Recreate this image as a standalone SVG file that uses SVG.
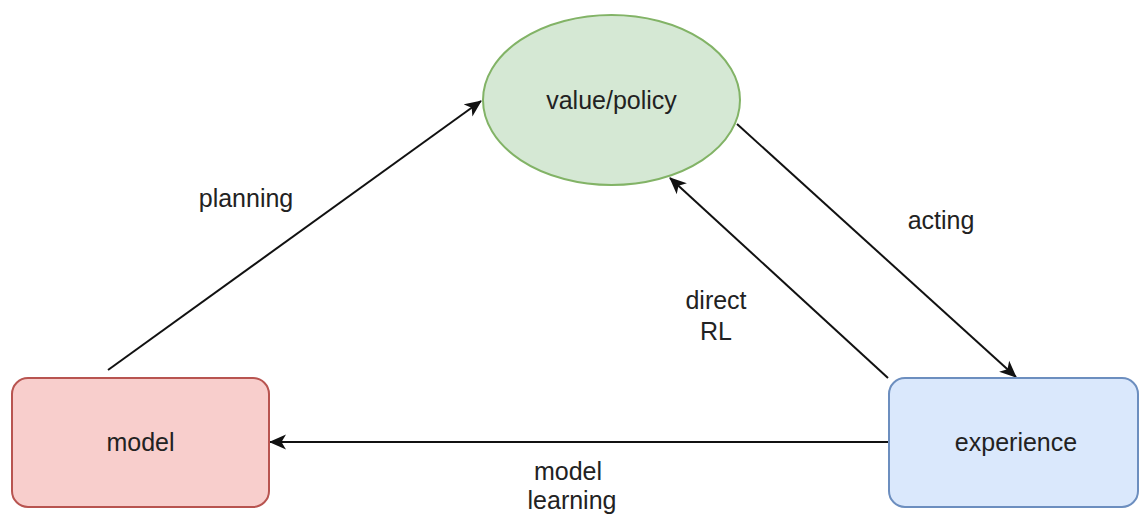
<svg xmlns="http://www.w3.org/2000/svg" width="1140" height="516" viewBox="0 0 1140 516">
<style>
text{font-family:"Liberation Sans",Arial,sans-serif;font-size:25px;fill:#222;text-anchor:middle}
.edge{stroke:#111;stroke-width:2;fill:none;marker-end:url(#arr)}
</style>
<defs>
<marker id="arr" markerUnits="userSpaceOnUse" markerWidth="19" markerHeight="16" refX="16" refY="8" orient="auto" viewBox="0 0 19 16">
<path d="M0,0.5 L17,8 L0,15.5 L4.5,8 Z" fill="#111"/>
</marker>
</defs>
<rect width="1140" height="516" fill="#fff"/>
<g id="connectors">
<path class="edge" d="M108,370 L481,101"/>
<path class="edge" d="M737,124 L1016,377"/>
<path class="edge" d="M888,378 L670,178"/>
<path class="edge" d="M889,442 L270,442"/>
<text x="246" y="207">planning</text>
<text x="941" y="229">acting</text>
<text x="716" y="309">direct</text>
<text x="716" y="340">RL</text>
<text x="568" y="480">model</text>
<text x="572" y="509">learning</text>
</g>
<g id="value-policy">
<ellipse cx="611.5" cy="100" rx="128.5" ry="85" fill="#d5e8d4" stroke="#82b366" stroke-width="2"/>
<text x="611.5" y="109">value/policy</text>
</g>
<g id="model">
<rect x="12" y="378" width="257" height="129" rx="16" fill="#f8cecc" stroke="#b85450" stroke-width="2"/>
<text x="140.5" y="451">model</text>
</g>
<g id="experience">
<rect x="889" y="378" width="249" height="129" rx="16" fill="#dae8fc" stroke="#6c8ebf" stroke-width="2"/>
<text x="1016" y="451">experience</text>
</g>
</svg>
